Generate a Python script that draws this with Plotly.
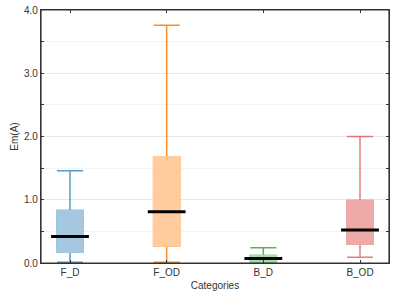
import plotly.graph_objects as go

categories = ["F_D", "F_OD", "B_D", "B_OD"]
lower = [0.01, 0.01, 0.0, 0.09]
q1 = [0.17, 0.27, 0.02, 0.30]
median = [0.42, 0.81, 0.07, 0.52]
q3 = [0.83, 1.68, 0.12, 0.99]
upper = [1.46, 3.76, 0.24, 2.00]
line_colors = ["rgba(31,119,180,0.75)", "rgba(255,127,14,0.9)", "rgba(44,160,44,0.8)", "rgba(214,39,40,0.6)"]
fill_solid = ["rgb(165,200,225)", "rgb(255,203,159)", "rgb(171,217,171)", "rgb(239,169,169)"]

fig = go.Figure()
for i, c in enumerate(categories):
    fig.add_trace(go.Box(
        x=[c], q1=[q1[i]], median=[median[i]], q3=[q3[i]],
        lowerfence=[lower[i]], upperfence=[upper[i]],
        fillcolor=fill_solid[i], line=dict(color=line_colors[i], width=1.5),
        whiskerwidth=1, width=0.27, boxpoints=False, showlegend=False, hoverinfo="skip"))
    fig.add_trace(go.Box(
        x=[c], q1=[q1[i]], median=[median[i]], q3=[q3[i]],
        lowerfence=[q1[i]], upperfence=[q3[i]],
        fillcolor=fill_solid[i], line=dict(color=fill_solid[i], width=1.5),
        whiskerwidth=1, width=0.27, boxpoints=False, showlegend=False, hoverinfo="skip"))

fig.add_trace(go.Scatter(
    x=categories, y=median, mode="markers",
    marker=dict(symbol="line-ew-open", size=27, color="black", line=dict(color="black", width=3)),
    showlegend=False, hoverinfo="skip"))

font = dict(family="Liberation Sans, Arial, sans-serif", size=10, color="#333333")
fig.update_layout(
    width=399, height=300,
    margin=dict(l=41, r=10, t=10, b=37),
    paper_bgcolor="white", plot_bgcolor="white",
    boxmode="overlay",
    font=font,
    xaxis=dict(
        type="category", range=[-0.3, 3.3], automargin=False,
        showline=True, linecolor="#333333", linewidth=1.2, mirror="ticks",
        ticks="inside", ticklen=3, tickcolor="#333333",
        showgrid=False, zeroline=False,
        title=dict(text="Categories", standoff=4, font=font),
    ),
    yaxis=dict(
        range=[0, 4.0], tickvals=[0, 1, 2, 3, 4], tickformat=".1f", automargin=False,
        showline=True, linecolor="#333333", linewidth=1.2, mirror="ticks",
        ticks="inside", ticklen=3, tickcolor="#333333",
        gridcolor="#e8e8e8", gridwidth=1, zeroline=False,
        minor=dict(tickvals=[0.5, 1.5, 2.5, 3.5], ticks="inside", ticklen=3,
                   tickcolor="#333333", showgrid=True, gridcolor="#f3f3f3", gridwidth=1),
        title=dict(text="Em(A)", standoff=3, font=font),
    ),
    shapes=[dict(type="rect", xref="paper", yref="paper", x0=0, y0=0, x1=1, y1=1,
                 line=dict(color="#333333", width=1.2), fillcolor="rgba(0,0,0,0)", layer="above")],
)

fig.write_html("out.html", config={"displayModeBar": False},
               post_script="document.body.style.margin='0';document.body.style.overflow='hidden';")
